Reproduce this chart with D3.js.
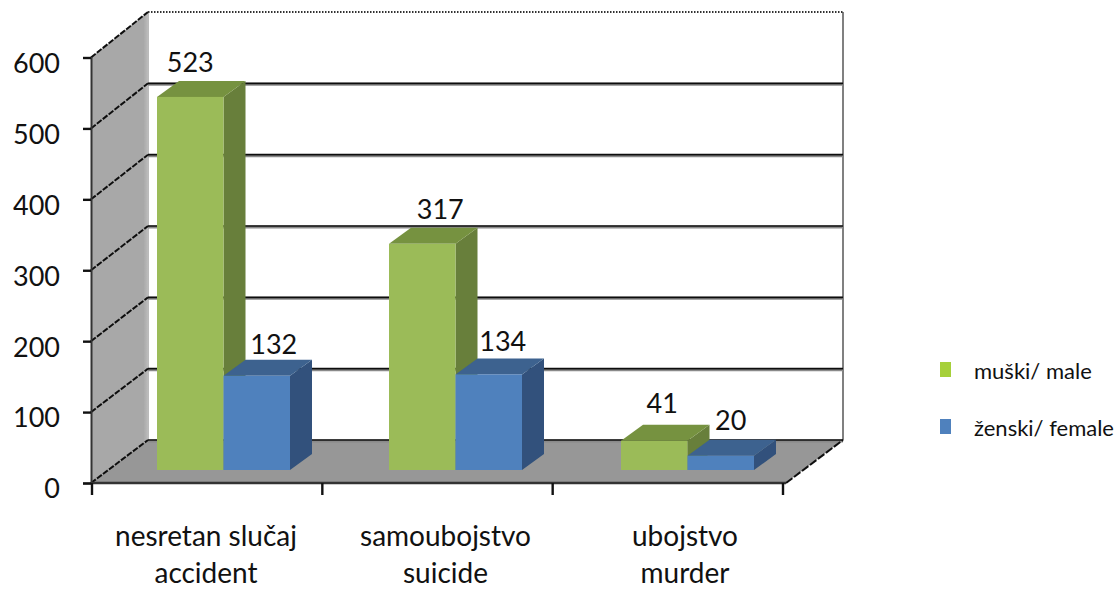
<!DOCTYPE html>
<html>
<head>
<meta charset="utf-8">
<script src="https://cdn.jsdelivr.net/npm/d3@7"></script>
<style>
html, body { margin: 0; padding: 0; background: #fff; }
text { font-family: Lato, "Open Sans", sans-serif; fill: #111; }
</style>
</head>
<body>
<div id="chart"></div>
<script>
var categories = ["nesretan slučaj|accident", "samoubojstvo|suicide", "ubojstvo|murder"];
var seriesNames = ["muški/ male", "ženski/ female"];
var male = [523, 317, 41];
var female = [132, 134, 20];
var yTicks = [0, 100, 200, 300, 400, 500, 600];

var width = 1120;
var height = 594;

// how far the back wall sits from the front axes, and how deep a bar is
var wallDx = 57;
var depth = { dx: 22, dy: -16 };

// value labels were placed by hand in the original
var labelNudge = {
	male: [[0, -25], [18, -25], [8, -28]],
	female: [[17, -22], [14, -23], [10, -26]]
};

var colors = {
	male: { front: "#9bbb59", top: "#76923f", side: "#677f3a" },
	female: { front: "#4f81bd", top: "#3c628f", side: "#30517b" }
};
var legendColors = ["#a6d03a", "#4f81bd"];

var svg = d3.select("#chart").append("svg")
	.attr("width", width)
	.attr("height", height)
	.style("display", "block");

var defs = svg.append("defs");
defs.append("filter").attr("id", "soft")
	.append("feGaussianBlur").attr("stdDeviation", 0.45);

var wallGrad = defs.append("linearGradient").attr("id", "wallGrad");
wallGrad.append("stop").attr("offset", "0%").attr("stop-color", "#a8a8a8");
wallGrad.append("stop").attr("offset", "92%").attr("stop-color", "#a8a8a8");
wallGrad.append("stop").attr("offset", "100%").attr("stop-color", "#bcbcbc");

///////////////////////// scales /////////////////////////
var y = d3.scaleLinear().domain([0, 600]).range([483, 57.5]);
// the back wall is drawn a touch taller than the front axis
var wallY = d3.scaleLinear().domain([0, 600]).range([440, 12]);
var axisX = d3.scaleBand().domain(categories).range([92, 783]);
// bars stand a little behind the front axis
var groupX = d3.scaleBand().domain(categories).range([157, 853]);
var seriesX = d3.scaleBand().domain(["male", "female"]).range([0, 133]);
var labelX = d3.scalePoint().domain(categories).range([206, 685]);
var barY = function(v) { return wallY(v) + 30; };

var x0 = axisX.range()[0] - 1;
var x1 = axisX.range()[1] + 3;
var backX0 = x0 + wallDx;
var backX1 = x1 + wallDx;

var plot = svg.append("g").attr("filter", "url(#soft)");

///////////////////////// walls /////////////////////////
plot.append("rect")
	.attr("x", backX0).attr("y", wallY(600))
	.attr("width", backX1 - backX0).attr("height", wallY(0) - wallY(600))
	.attr("fill", "#fff");

plot.append("polygon")
	.attr("points", [[x0, y(0)], [backX0, wallY(0)], [backX0, wallY(600)], [x0, y(600)]].join(" "))
	.attr("fill", "url(#wallGrad)");

plot.append("polygon")
	.attr("points", [[x0, y(0)], [backX0, wallY(0)], [backX1, wallY(0)], [x1, y(0)]].join(" "))
	.attr("fill", "#979797");

plot.append("line")
	.attr("x1", backX0).attr("x2", backX0)
	.attr("y1", wallY(600)).attr("y2", wallY(0))
	.attr("stroke", "#bbb").attr("stroke-width", 2);

plot.append("line")
	.attr("x1", backX1).attr("x2", backX1)
	.attr("y1", wallY(600)).attr("y2", wallY(0))
	.attr("stroke", "#808080").attr("stroke-width", 2);

///////////////////////// grid /////////////////////////
var gridTicks = yTicks.filter(function(d) { return d < 600; });

plot.selectAll(".grid-shadow").data(gridTicks).enter().append("line")
	.attr("class", "grid-shadow")
	.attr("x1", backX0).attr("x2", backX1)
	.attr("y1", function(d) { return wallY(d) + 1; })
	.attr("y2", function(d) { return wallY(d) + 1; })
	.attr("stroke", "#8a8a8a").attr("stroke-width", 3);

plot.selectAll(".grid").data(gridTicks).enter().append("line")
	.attr("class", "grid")
	.attr("x1", backX0).attr("x2", backX1)
	.attr("y1", function(d) { return wallY(d); })
	.attr("y2", function(d) { return wallY(d); })
	.attr("stroke", "#111").attr("stroke-width", 1.6);

plot.selectAll(".grid-side").data(yTicks).enter().append("line")
	.attr("class", "grid-side")
	.attr("x1", x0).attr("x2", backX0)
	.attr("y1", function(d) { return y(d); })
	.attr("y2", function(d) { return wallY(d); })
	.attr("stroke", "#111")
	.attr("stroke-width", 2)
	.attr("stroke-dasharray", "6 1.5");

// dotted top edge and dashed floor edge
plot.append("line")
	.attr("x1", backX0).attr("x2", backX1)
	.attr("y1", wallY(600)).attr("y2", wallY(600))
	.attr("stroke", "#333").attr("stroke-width", 2)
	.attr("stroke-dasharray", "1.5 1.5");

plot.append("line")
	.attr("x1", x1).attr("x2", backX1)
	.attr("y1", y(0)).attr("y2", wallY(0))
	.attr("stroke", "#111").attr("stroke-width", 2)
	.attr("stroke-dasharray", "8 2");

///////////////////////// bars /////////////////////////
function drawBars(key, values) {
	var c = colors[key];
	var g = plot.append("g").attr("class", "bars-" + key);
	categories.forEach(function(cat, i) {
		var left = groupX(cat) + seriesX(key);
		var right = left + seriesX.bandwidth();
		var top = barY(values[i]);
		var base = barY(0);
		var bar = g.append("g");
		bar.append("polygon")
			.attr("points", [[right, top], [right + depth.dx, top + depth.dy], [right + depth.dx, base + depth.dy], [right, base]].join(" "))
			.attr("fill", c.side);
		bar.append("polygon")
			.attr("points", [[left, top], [left + depth.dx, top + depth.dy], [right + depth.dx, top + depth.dy], [right, top]].join(" "))
			.attr("fill", c.top);
		bar.append("rect")
			.attr("x", left).attr("y", top)
			.attr("width", right - left).attr("height", base - top)
			.attr("fill", c.front);
	});
}
drawBars("male", male);
drawBars("female", female);

///////////////////////// axes /////////////////////////
var yAxis = svg.append("g")
	.attr("transform", "translate(" + x0 + ",0)")
	.call(d3.axisLeft(y).tickValues(yTicks).tickSize(8).tickPadding(23).tickFormat(d3.format("d")));
yAxis.selectAll("text")
	.attr("dy", "0.55em")
	.style("font-size", "27px");
yAxis.selectAll("line").attr("stroke", "#111").attr("stroke-width", 2.4);
yAxis.select(".domain").attr("stroke", "#333").attr("stroke-width", 2);

var xAxis = svg.append("g")
	.attr("transform", "translate(0," + y(0) + ")")
	.call(d3.axisBottom(axisX).tickValues([]).tickSizeOuter(0));
xAxis.select(".domain").attr("d", "M" + x0 + ",0H" + x1).attr("stroke", "#333").attr("stroke-width", 2.4);

var xEdges = categories.map(function(c) { return axisX(c); }).concat([axisX.range()[1]]);
xAxis.selectAll(".edge").data(xEdges).enter().append("line")
	.attr("class", "edge")
	.attr("x1", function(d) { return d; }).attr("x2", function(d) { return d; })
	.attr("y1", 0).attr("y2", 12)
	.attr("stroke", "#111").attr("stroke-width", 2.4);

///////////////////////// text /////////////////////////
var catLabels = svg.selectAll(".cat").data(categories).enter().append("text")
	.attr("class", "cat")
	.attr("text-anchor", "middle")
	.style("font-size", "28px");
catLabels.append("tspan")
	.attr("x", function(d) { return labelX(d); })
	.attr("y", 546)
	.text(function(d) { return d.split("|")[0]; });
catLabels.append("tspan")
	.attr("x", function(d) { return labelX(d); })
	.attr("y", 583)
	.text(function(d) { return d.split("|")[1]; });

function drawValues(key, values) {
	svg.selectAll(".val-" + key).data(values).enter().append("text")
		.attr("class", "val-" + key)
		.attr("text-anchor", "middle")
		.attr("x", function(d, i) {
			return groupX(categories[i]) + seriesX(key) + seriesX.bandwidth() / 2 + labelNudge[key][i][0];
		})
		.attr("y", function(d, i) { return barY(d) + labelNudge[key][i][1]; })
		.style("font-size", "27px")
		.text(function(d) { return d; });
}
drawValues("male", male);
drawValues("female", female);

///////////////////////// legend /////////////////////////
var legendY = d3.scalePoint().domain(seriesNames).range([370, 427]);
var legend = svg.selectAll(".legend").data(seriesNames).enter().append("g")
	.attr("class", "legend")
	.attr("transform", function(d) { return "translate(940," + legendY(d) + ")"; });
legend.append("rect")
	.attr("x", 0).attr("y", -8)
	.attr("width", 11).attr("height", 15)
	.attr("fill", function(d, i) { return legendColors[i]; });
legend.append("text")
	.attr("x", 34).attr("y", 9)
	.style("font-size", "22px")
	.text(function(d) { return d; });
</script>
</body>
</html>
